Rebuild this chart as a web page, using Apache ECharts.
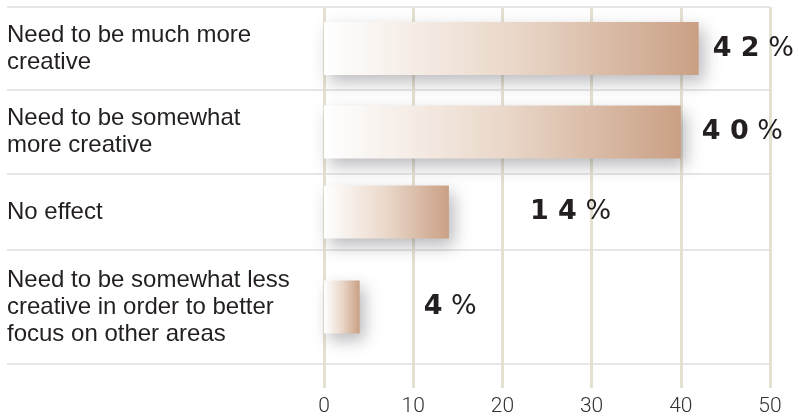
<!DOCTYPE html>
<html>
<head>
<meta charset="utf-8">
<script src="https://cdn.jsdelivr.net/npm/echarts@6/dist/echarts.min.js"></script>
<style>
html,body{margin:0;padding:0;background:#fff;}
#chart{width:799px;height:418px;}
</style>
</head>
<body>
<div id="chart"></div>
<script>
// ---- data ----
const categories = [
  "Need to be much more\ncreative",
  "Need to be somewhat\nmore creative",
  "No effect",
  "Need to be somewhat less\ncreative in order to better\nfocus on other areas"
];
const values = [42, 40, 14, 4];
const xTicks = [0, 10, 20, 30, 40, 50];

// ---- layout (pixels) ----
const W = 799, H = 418;
const plotLeft = 324, plotRight = 770, plotTop = 7, plotBottom = 388;
const rowEdges = [7, 90, 174, 250, 364];
const labelDistance = [14, 21, 81, 64];
const textLeft = 7;

const chart = echarts.init(document.getElementById('chart'), null, {renderer: 'canvas'});

const grids = [{left: plotLeft, right: W - plotRight, top: plotTop, bottom: H - plotBottom}];
const xAxes = [{
  gridIndex: 0, type: 'value', min: xTicks[0], max: xTicks[xTicks.length - 1], interval: 10,
  axisLine: {show: false}, axisTick: {show: false},
  splitLine: {show: true, lineStyle: {color: '#e5e1d1', width: 3}},
  axisLabel: {color: '#333', fontSize: 21, fontFamily: 'Roboto', fontWeight: 300, margin: 8}
}];
const yAxes = [{gridIndex: 0, type: 'category', data: [''], show: false}];
const series = [];

categories.forEach((cat, i) => {
  const g = i + 1;
  grids.push({left: plotLeft, right: W - plotRight, top: rowEdges[i], bottom: H - rowEdges[i + 1]});
  xAxes.push({gridIndex: g, type: 'value', min: 0, max: 50, show: false, splitLine: {show: false}});
  yAxes.push({
    gridIndex: g, type: 'category', data: [cat],
    axisLine: {show: false}, axisTick: {show: false}, splitLine: {show: false},
    axisLabel: {
      align: 'left', margin: plotLeft - textLeft, color: '#231f20',
      fontFamily: 'Liberation Sans', fontSize: 24, lineHeight: 27
    }
  });
  series.push({
    type: 'bar', xAxisIndex: g, yAxisIndex: g, barWidth: 53,
    data: [values[i]],
    itemStyle: {
      color: new echarts.graphic.LinearGradient(0, 0, 1, 0, [
        {offset: 0, color: '#ffffff'},
        {offset: 0.5, color: '#ead8ca'},
        {offset: 1, color: '#caa085'}
      ]),
      shadowColor: 'rgba(60,60,70,0.35)', shadowBlur: 16, shadowOffsetX: 5, shadowOffsetY: 7
    },
    label: {
      show: true, position: 'right', distance: labelDistance[i],
      formatter: p => '{d|' + String(p.value).split('').join(' ') + '}{p| %}',
      rich: {
        d: {fontFamily: 'DejaVu Sans', fontWeight: 'bold', fontSize: 27, color: '#231f20'},
        p: {fontFamily: 'DejaVu Sans', fontSize: 27, color: '#231f20'}
      }
    }
  });
});

const graphic = rowEdges.map(y => ({
  type: 'line', z: 0,
  shape: {x1: textLeft, y1: y, x2: plotRight, y2: y},
  style: {stroke: '#e6e6e6', lineWidth: 2}
}));

chart.setOption({
  animation: false,
  grid: grids, xAxis: xAxes, yAxis: yAxes, series: series, graphic: graphic
});
</script>
</body>
</html>
